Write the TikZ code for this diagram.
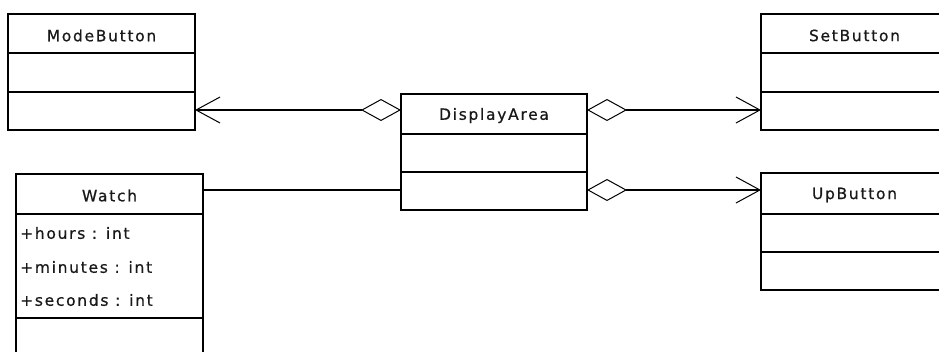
\documentclass[tikz,border=0pt]{standalone}
\usepackage{fontspec}
\setmainfont{DejaVu Sans}[LetterSpace=11, FakeBold=0.6]
\usetikzlibrary{arrows.meta,calc}
\tikzset{
  cls/.style={draw=black, line width=1.3pt, fill=white, anchor=north west, minimum width=187pt, inner sep=0pt, outer sep=0pt},
  ttl/.style={font=\fontsize{15.5}{17}\selectfont, text=black!90, inner sep=0pt},
  attr/.style={font=\fontsize{15.5}{17}\selectfont, text=black!90, inner sep=0pt, anchor=west},
  divider/.style={line width=1.3pt},
  conn/.style={line width=1.1pt},
  aggr/.style={conn, {Diamond[open, length=40pt, width=22pt, line width=1pt]}-{Straight Barb[length=24pt, width=26pt, line width=1pt]}},
}
\begin{document}
\begin{tikzpicture}[x=1pt, y=-1pt]
\useasboundingbox (0,0) rectangle (939,351);
\fill[white] (0,0) rectangle (939,351);

% ModeButton
\node[cls, minimum height=116pt] (mb) at (8,14) {};
\node[ttl] (mbt) at ([yshift=-21.5pt]mb.north) {ModeButton};
\draw[divider] ([yshift=-39pt]mb.north west) -- ([yshift=-39pt]mb.north east);
\draw[divider] ([yshift=-78pt]mb.north west) -- ([yshift=-78pt]mb.north east);

% DisplayArea
\node[cls, minimum height=116pt, minimum width=186pt] (da) at (401,94) {};
\node[ttl] (dat) at ([yshift=-21.5pt]da.north) {DisplayArea};
\draw[divider] ([yshift=-40pt]da.north west) -- ([yshift=-40pt]da.north east);
\draw[divider] ([yshift=-78pt]da.north west) -- ([yshift=-78pt]da.north east);

% SetButton
\node[cls, minimum height=116pt] (sb) at (761,14) {};
\node[ttl] (sbt) at ([yshift=-21.5pt]sb.north) {SetButton};
\draw[divider] ([yshift=-39pt]sb.north west) -- ([yshift=-39pt]sb.north east);
\draw[divider] ([yshift=-78pt]sb.north west) -- ([yshift=-78pt]sb.north east);

% UpButton
\node[cls, minimum height=117pt] (ub) at (761,173) {};
\node[ttl] (ubt) at ([yshift=-22pt]ub.north) {UpButton};
\draw[divider] ([yshift=-41pt]ub.north west) -- ([yshift=-41pt]ub.north east);
\draw[divider] ([yshift=-79pt]ub.north west) -- ([yshift=-79pt]ub.north east);

% Watch
\node[cls, minimum height=206pt] (w) at (16,174) {};
\node[ttl] (wt) at ([yshift=-21.5pt]w.north) {Watch};
\draw[divider] ([yshift=-40pt]w.north west) -- ([yshift=-40pt]w.north east);
\draw[divider] ([yshift=-144pt]w.north west) -- ([yshift=-144pt]w.north east);
\node[attr] (a1) at ([xshift=4pt,yshift=-59pt]w.north west) {+hours : int};
\node[attr] (a2) at ([xshift=4pt,yshift=-93pt]w.north west) {+minutes : int};
\node[attr] (a3) at ([xshift=4pt,yshift=-126pt]w.north west) {+seconds : int};

% Connectors
\draw[aggr] ([yshift=-16pt]da.north west) -- ([yshift=-16pt]da.north west -| mb.east);
\draw[aggr] ([yshift=-16pt]da.north east) -- ([yshift=-16pt]da.north east -| sb.west);
\draw[aggr] ([yshift=-96pt]da.north east) -- ([yshift=-96pt]da.north east -| ub.west);
\draw[conn] ([yshift=-16pt]w.north east) -- ([yshift=-16pt]w.north east -| da.west);
\end{tikzpicture}
\end{document}
